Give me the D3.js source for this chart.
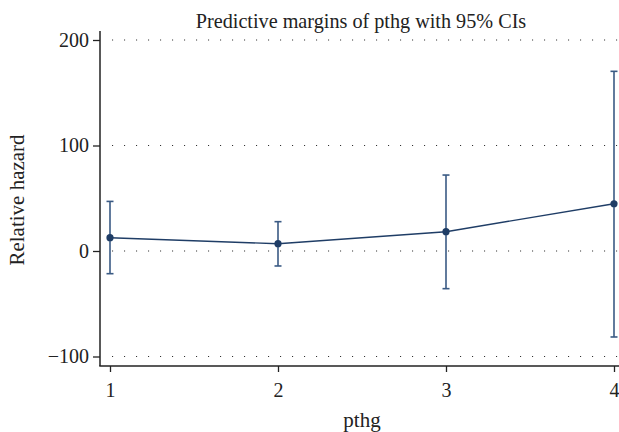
<!DOCTYPE html>
<html>
<head>
<meta charset="utf-8">
<script src="https://cdn.jsdelivr.net/npm/d3@7"></script>
<style>
  body { margin: 0; background: #fff; }
  text { font-family: "Liberation Serif", "DejaVu Serif", serif; fill: #222; }
</style>
</head>
<body>
<script>
var svgWidth = 619;
var svgHeight = 432;

// data
var levels = [1, 2, 3, 4];
var margins = [12.6, 6.9, 18.3, 44.8];
var ciLow = [-21.5, -14.2, -35.7, -81.5];
var ciHigh = [47, 27.8, 72, 170.3];
var yTicks = [-100, 0, 100, 200];

var svg = d3.select("body")
  .append("svg")
  .attr("width", svgWidth)
  .attr("height", svgHeight);

var x = d3.scaleLinear().domain([1, 4]).range([110, 614]);
var y = d3.scaleLinear().domain([-100, 200]).range([356.5, 40]);

var axisLeftX = 100;
var axisBottomY = 366;

// dotted grid lines
svg.append("g")
  .selectAll("line")
  .data(yTicks)
  .enter()
  .append("line")
  .attr("x1", 112)
  .attr("x2", svgWidth)
  .attr("y1", d => y(d))
  .attr("y2", d => y(d))
  .attr("stroke", "#333")
  .attr("stroke-width", 1.1)
  .attr("stroke-dasharray", "1.1,10.9");

// y axis
var leftAxis = d3.axisLeft(y).tickValues(yTicks).tickSize(7).tickPadding(4)
  .tickFormat(d => d < 0 ? "\u2212" + Math.abs(d) : d);
var gy = svg.append("g")
  .attr("transform", `translate(${axisLeftX},0)`)
  .call(leftAxis);
gy.select(".domain").remove();
gy.append("line")
  .attr("x1", 0).attr("x2", 0)
  .attr("y1", 31).attr("y2", axisBottomY)
  .attr("stroke", "#222").attr("stroke-width", 1.5);
gy.selectAll(".tick line").attr("stroke", "#222").attr("stroke-width", 1.3);
gy.selectAll(".tick text")
  .attr("font-size", 20)
  .attr("font-family", "Liberation Serif")
  .attr("fill", "#222");

// x axis
var bottomAxis = d3.axisBottom(x).tickValues(levels).tickSize(6).tickPadding(11)
  .tickFormat(d3.format("d"));
var gx = svg.append("g")
  .attr("transform", `translate(0,${axisBottomY})`)
  .call(bottomAxis);
gx.select(".domain").remove();
gx.append("line")
  .attr("x1", axisLeftX - 0.75).attr("x2", svgWidth)
  .attr("y1", 0).attr("y2", 0)
  .attr("stroke", "#222").attr("stroke-width", 1.5);
gx.selectAll(".tick line").attr("stroke", "#222").attr("stroke-width", 1.3);
gx.selectAll(".tick text")
  .attr("font-size", 20)
  .attr("font-family", "Liberation Serif")
  .attr("fill", "#222");

var data = levels.map((d, i) => ({ lvl: d, m: margins[i], lo: ciLow[i], hi: ciHigh[i] }));

// confidence intervals
var ci = svg.append("g").attr("stroke", "#3a5a84").attr("stroke-width", 1.6);
ci.selectAll("line.ci")
  .data(data)
  .enter()
  .append("line")
  .attr("x1", d => x(d.lvl)).attr("x2", d => x(d.lvl))
  .attr("y1", d => y(d.lo)).attr("y2", d => y(d.hi));
ci.selectAll("line.capHi")
  .data(data)
  .enter()
  .append("line")
  .attr("x1", d => x(d.lvl) - 3.5).attr("x2", d => x(d.lvl) + 3.5)
  .attr("y1", d => y(d.hi)).attr("y2", d => y(d.hi));
ci.selectAll("line.capLo")
  .data(data)
  .enter()
  .append("line")
  .attr("x1", d => x(d.lvl) - 3.5).attr("x2", d => x(d.lvl) + 3.5)
  .attr("y1", d => y(d.lo)).attr("y2", d => y(d.lo));

// margins line
var line = d3.line().x(d => x(d.lvl)).y(d => y(d.m));
svg.append("path")
  .datum(data)
  .attr("d", line)
  .attr("fill", "none")
  .attr("stroke", "#1f3d66")
  .attr("stroke-width", 1.4);

svg.append("g")
  .selectAll("circle")
  .data(data)
  .enter()
  .append("circle")
  .attr("cx", d => x(d.lvl))
  .attr("cy", d => y(d.m))
  .attr("r", 3.6)
  .attr("fill", "#1f3d66");

// titles
svg.append("text")
  .attr("x", 361)
  .attr("y", 28)
  .attr("text-anchor", "middle")
  .attr("font-size", 20.2)
  .text("Predictive margins of pthg with 95% CIs");

svg.append("text")
  .attr("transform", "rotate(-90)")
  .attr("x", -200)
  .attr("y", 24)
  .attr("text-anchor", "middle")
  .attr("font-size", 21)
  .text("Relative hazard");

svg.append("text")
  .attr("x", 362)
  .attr("y", 427)
  .attr("text-anchor", "middle")
  .attr("font-size", 21)
  .text("pthg");
</script>
</body>
</html>
